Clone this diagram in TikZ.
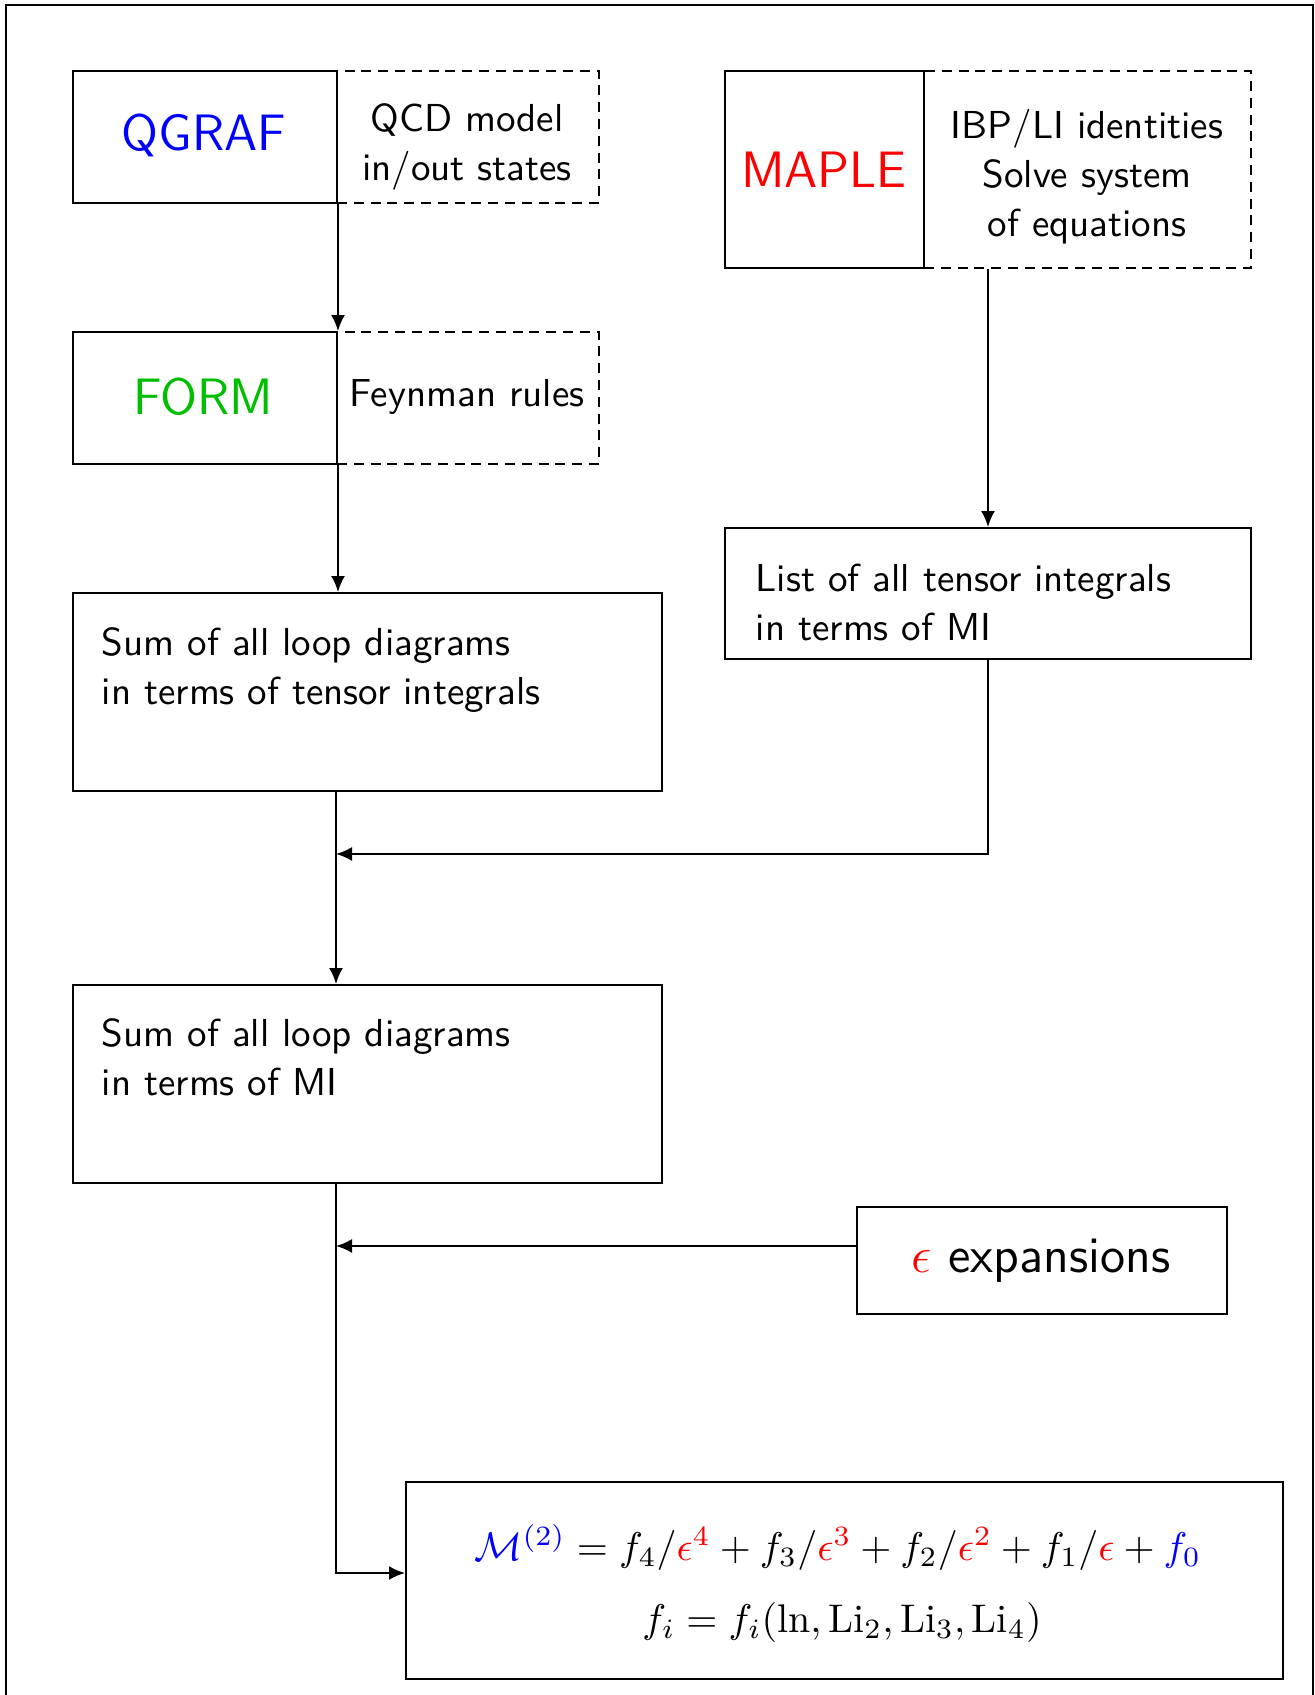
\RequirePackage{fix-cm}
\documentclass[tikz,border=0pt]{standalone}
\usepackage{fontspec}
\usetikzlibrary{arrows.meta}
\definecolor{formgreen}{RGB}{0,190,0}
% lengths given in picture units (1 unit = 0.25pt)
\newcommand\px[1]{#1*0.25pt}

\begin{document}
\begin{tikzpicture}[x=0.25pt,y=-0.25pt,
  box/.style={draw,line width=0.5pt,inner sep=0pt,anchor=north west},
  dbox/.style={box,dash pattern=on 2.5pt off 1.7pt},
  body/.style={font=\sffamily\fontsize{9.75pt}{12.25pt}\selectfont,inner sep=0pt},
  big/.style={font=\sffamily\fontsize{12.8pt}{15pt}\selectfont,inner sep=0pt,anchor=base},
  formula/.style={font=\fontsize{10pt}{12pt}\selectfont,inner sep=0pt,anchor=base},
  arr/.style={line width=0.5pt,-{Latex[length=4pt,width=3.5pt]}}
]
\useasboundingbox (0,0) rectangle (1315,1695);

% outer frame, open at the bottom
\draw[line width=0.45pt] (6,1695) -- (6,5) -- (1313,5) -- (1313,1695);

% program boxes with their dashed side panels
\node[box,minimum width=\px{264},minimum height=\px{132}] (qgraf) at (72,70) {};
\node[dbox,minimum width=\px{262},minimum height=\px{132}] (qcd) at (336,70) {};
\node[box,minimum width=\px{264},minimum height=\px{132}] (form) at (72,331) {};
\node[dbox,minimum width=\px{262},minimum height=\px{132}] (feyn) at (336,331) {};
\node[box,minimum width=\px{199},minimum height=\px{197}] (maple) at (724,70) {};
\node[dbox,minimum width=\px{327},minimum height=\px{197}] (ibp) at (923,70) {};

% result boxes
\node[box,minimum width=\px{526},minimum height=\px{131}] (list) at (724,527) {};
\node[box,minimum width=\px{589},minimum height=\px{198}] (sum1) at (72,592) {};
\node[box,minimum width=\px{589},minimum height=\px{198}] (sum2) at (72,984) {};
\node[box,minimum width=\px{370},minimum height=\px{107}] (eps) at (856,1206) {};
\node[box,minimum width=\px{877},minimum height=\px{197}] (res) at (405,1481) {};

% labels
\node[big,text=blue] (qgrafname) at (204,150) {QGRAF};
\node[body,align=center,anchor=north] (qcdtext) at (467,103) {QCD model\\in/out states};
\node[big,text=formgreen] (formname) at (203,414) {FORM};
\node[body,anchor=base] (feyntext) at (467,406) {Feynman rules};
\node[big,text=red] (maplename) at (824,187) {MAPLE};
\node[body,align=center,anchor=north] (ibptext) at (1087,108) {IBP/LI identities\\Solve system\\of equations};
\node[body,align=left,anchor=north west] (listtext) at (755,563) {List of all tensor integrals\\in terms of MI};
\node[body,align=left,anchor=north west] (sum1text) at (101,627) {Sum of all loop diagrams\\in terms of tensor integrals};
\node[body,align=left,anchor=north west] (sum2text) at (101,1018) {Sum of all loop diagrams\\in terms of MI};
\node[big] (epstext) at (1041,1272) {$\textcolor{red}{\epsilon}$ expansions};

% final result
\node[formula] (mline) at (838,1560) {$\textcolor{blue}{\mathcal{M}^{(2)}} = f_4/\textcolor{red}{\epsilon^4} + f_3/\textcolor{red}{\epsilon^3} + f_2/\textcolor{red}{\epsilon^2} + f_1/\textcolor{red}{\epsilon} + \textcolor{blue}{f_0}$};
\node[formula] (fline) at (842,1632) {$f_i = f_i(\ln, \mathrm{Li}_2, \mathrm{Li}_3, \mathrm{Li}_4)$};

% connectors
\coordinate (j1) at (336,854);
\coordinate (j2) at (336,1246);
\coordinate (j3) at (336,1573);
\draw[arr] (qgraf.south east) -- (qgraf.south east |- form.north);
\draw[arr] (form.south east) -- (form.south east |- sum1.north);
\draw[arr] (list.north |- ibp.south) -- (list.north);
\draw[arr] (list.south) |- (j1);
\draw[arr] (sum1.south -| j1) -- (sum2.north -| j1);
\draw[arr] (eps.west |- j2) -- (j2);
\draw[arr] (sum2.south -| j3) -- (j3) -- (res.west |- j3);
\end{tikzpicture}
\end{document}
